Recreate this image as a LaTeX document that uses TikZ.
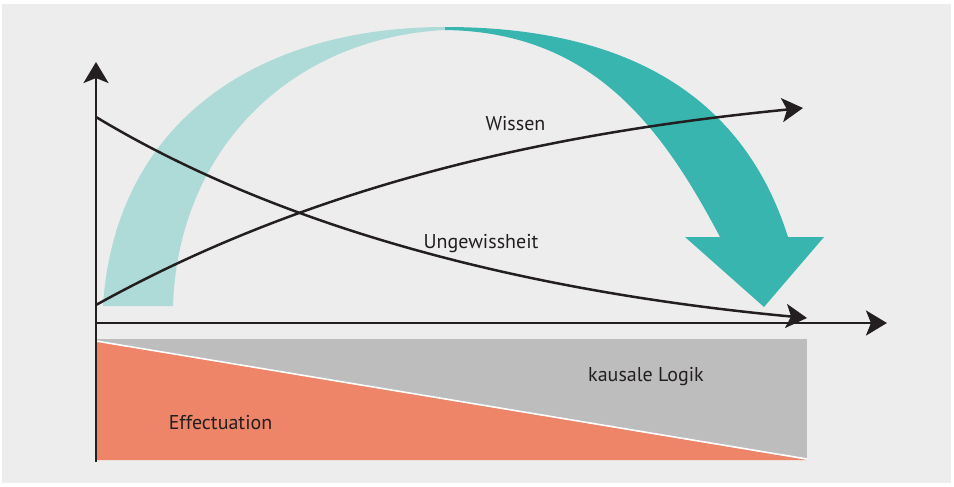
\documentclass[tikz,border=0pt]{standalone}
\usepackage{fontspec}
\setmainfont{PT Sans}
\usetikzlibrary{arrows.meta}
\definecolor{bgray}{HTML}{EDEDED}
\definecolor{lteal}{HTML}{AEDBD7}
\definecolor{dteal}{HTML}{38B5AF}
\definecolor{salmon}{HTML}{EE8468}
\definecolor{mgray}{HTML}{BDBDBD}
\definecolor{ink}{HTML}{231F20}
\tikzset{
  axisline/.style={draw=ink, line width=2.6pt, -{Stealth[length=21pt,width=25pt,inset=5pt]}},
  curveline/.style={draw=ink, line width=2.5pt, -{Stealth[length=21pt,width=24pt,inset=5pt]}},
  lbl/.style={text=ink, font=\fontsize{20}{24}\selectfont, anchor=base, inner sep=0pt}
}
\begin{document}
\begin{tikzpicture}[x=1pt,y=-1pt]
\useasboundingbox (0,0) rectangle (954,487);
\fill[white] (0,0) rectangle (954,487);
\fill[bgray] (2,4) rectangle (951,483);
% big arrow, light part
\fill[lteal] (103,306) .. controls (115,120) and (260,27) .. (445,27)
  -- (445,30) .. controls (290,38) and (178,150) .. (173,306) -- cycle;
% big arrow, dark part
\fill[dteal] (445,27) .. controls (660,27) and (752,123) .. (788,237)
  -- (824,237) -- (764,307) -- (685,237) -- (720,237)
  .. controls (660,123) and (590,32) .. (445,30) -- cycle;
% lower band
\fill[mgray] (96,339) rectangle (807,460);
\fill[salmon] (96,341) -- (807,460) -- (96,460) -- cycle;
\draw[white, line width=1.6pt] (96,341) -- (807,459);
% axes
\coordinate (o) at (96,323);
\coordinate (ybot) at (96,462);
\coordinate (ytop) at (96,62);
\coordinate (xend) at (887,323);
\draw[axisline] (ybot) -- (ytop);
\draw[axisline] (o) -- (xend);
% curves
\coordinate (w0) at (96,305);
\coordinate (w1) at (803,108);
\coordinate (u0) at (96,117);
\coordinate (u1) at (807,318);
\draw[curveline] (w0) .. controls (330,175) and (580,130) .. (w1);
\draw[curveline] (u0) .. controls (300,240) and (560,295) .. (u1);
% labels
\node[lbl] (wissen) at (515.5,131) {Wissen};
\node[lbl] (ungew) at (481,248) {Ungewissheit};
\node[lbl] (kausal) at (646,381) {kausale Logik};
\node[lbl] (effect) at (220.5,429) {Effectuation};
\end{tikzpicture}
\end{document}
